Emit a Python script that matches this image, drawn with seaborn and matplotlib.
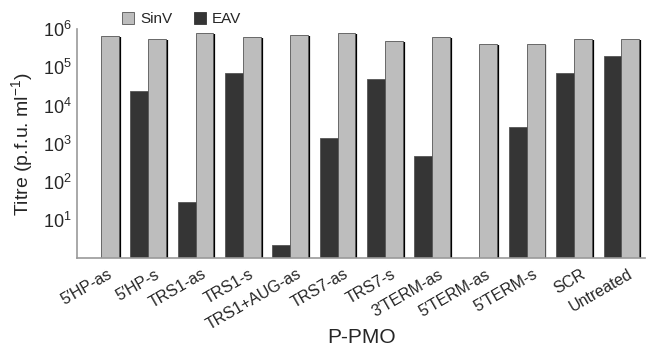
import numpy as np
import pandas as pd
import matplotlib
matplotlib.use("Agg")
import matplotlib.pyplot as plt
import matplotlib.transforms as mtransforms
import seaborn as sns
from matplotlib.patches import Patch

groups = ["5\u2032HP-as", "5\u2032HP-s", "TRS1-as", "TRS1-s", "TRS1+AUG-as", "TRS7-as",
          "TRS7-s", "3\u2032TERM-as", "5\u2032TERM-as", "5\u2032TERM-s", "SCR", "Untreated"]
eav = [np.nan, 2.4e4, 29, 7.2e4, 2.2, 1.4e3, 4.8e4, 470, np.nan, 2.7e3, 6.9e4, 2.0e5]
sinv = [6.6e5, 5.6e5, 7.8e5, 6.2e5, 7.2e5, 7.8e5, 4.9e5, 6.2e5, 4.2e5, 4.2e5, 5.6e5, 5.6e5]

sns.set_style("white")
plt.rcParams["font.family"] = ["Liberation Sans", "DejaVu Sans"]
plt.rcParams["mathtext.fontset"] = "custom"
plt.rcParams["mathtext.rm"] = "Liberation Sans"
plt.rcParams["mathtext.it"] = "Liberation Sans"

df = pd.DataFrame({"P-PMO": groups * 2,
                   "virus": ["EAV"] * len(groups) + ["SinV"] * len(groups),
                   "titre": eav + sinv}).dropna()

fig = plt.figure(figsize=(6.49, 3.47), dpi=100)
ax = fig.add_axes([0.119, 0.256, 0.875, 0.66])
sns.barplot(data=df, x="P-PMO", y="titre", hue="virus", order=groups,
            hue_order=["EAV", "SinV"], palette={"EAV": "#353535", "SinV": "#bdbdbd"},
            width=0.75, edgecolor="#555555", linewidth=0.6, ax=ax, legend=False)
ax.set_yscale("log")
ax.set_ylim(1, 1e6)
ax.set_xlim(-0.5, len(groups) - 0.5)

# dark right edge on every bar
for p in ax.patches:
    h = p.get_height()
    if np.isfinite(h) and h > 0:
        xr = p.get_x() + p.get_width()
        ax.plot([xr + 0.02, xr + 0.02], [1, h * 0.93], color="black", lw=1.6,
                solid_capstyle="butt", zorder=p.get_zorder() - 0.1)

ax.set_yticks([10, 1e2, 1e3, 1e4, 1e5, 1e6])
ax.set_yticklabels([r"$10^{%d}$" % i for i in range(1, 7)], fontsize=13)
ax.yaxis.set_minor_locator(matplotlib.ticker.NullLocator())
ax.tick_params(axis="y", length=0, pad=4)
ax.set_xticks(range(len(groups)))
ax.set_xticklabels(groups, rotation=30, ha="right", rotation_mode="anchor", fontsize=11.5)
ax.tick_params(axis="x", length=0, pad=6)
shift = mtransforms.ScaledTranslation(6 / 100, 0, fig.dpi_scale_trans)
for lab in ax.get_xticklabels():
    lab.set_transform(lab.get_transform() + shift)
ax.set_xticks(np.arange(-0.5, len(groups), 1), minor=True)
ax.tick_params(axis="x", which="minor", length=3, color="#888888", direction="out")

for s in ["top", "right"]:
    ax.spines[s].set_visible(False)
for s in ["left", "bottom"]:
    ax.spines[s].set_color("#999999")
    ax.spines[s].set_linewidth(1.2)

ax.set_ylabel("Titre (p.f.u. ml$^{-1}$)", fontsize=14, labelpad=6)
ax.set_xlabel("P-PMO", fontsize=15)
ax.xaxis.set_label_coords(0.5, -0.306)

handles = [Patch(facecolor="#bdbdbd", edgecolor="#555555", lw=0.6, label="SinV"),
           Patch(facecolor="#353535", edgecolor="#353535", lw=0.6, label="EAV")]
fig.legend(handles=handles, loc="center", bbox_to_anchor=(0.28, 0.945), ncol=2, frameon=False,
           fontsize=11, handlelength=0.8, handleheight=0.8, columnspacing=1.4, handletextpad=0.4)

fig.savefig("out.png", dpi=100)
